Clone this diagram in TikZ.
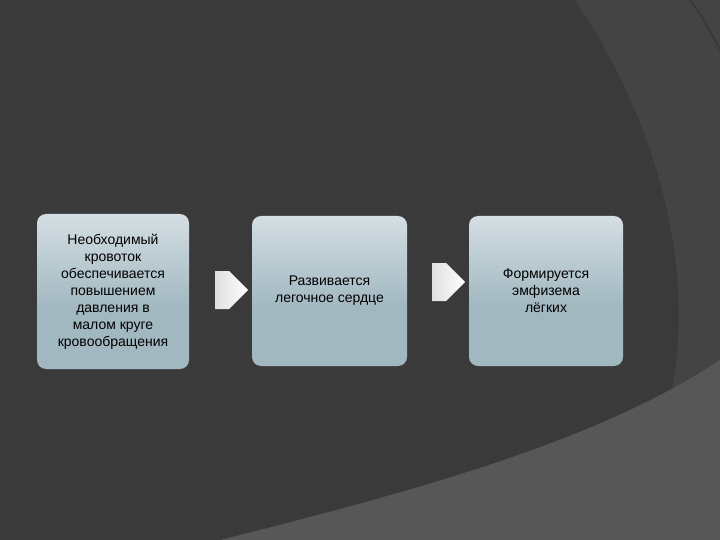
\documentclass[tikz,border=0pt]{standalone}
\usepackage{fontspec}
\setmainfont{Liberation Sans}
\usetikzlibrary{shapes.arrows}
\definecolor{boxb}{HTML}{D8E0E4}
\definecolor{boxm}{HTML}{A2B8C1}
\definecolor{boxl}{HTML}{D4DEE3}
\definecolor{bgdark}{HTML}{3A3A3A}
\definecolor{bgmid}{HTML}{444444}
\definecolor{bglight}{HTML}{575757}
\pgfdeclareverticalshading{boxshade}{100bp}{color(0bp)=(boxb); color(12bp)=(boxm); color(45bp)=(boxm); color(75bp)=(boxl); color(100bp)=(white)}
\tikzset{
  stepbox/.style={rounded corners=9pt, shading=boxshade, align=center, font=\fontsize{14}{17}\selectfont, text=black, inner sep=0pt},
  flowarrow/.style={single arrow, draw=none, minimum height=33pt, minimum width=38pt, single arrow head extend=0pt, inner sep=0pt, left color=gray!25!white, right color=white}
}
\begin{document}
\begin{tikzpicture}[x=1pt,y=-1pt]
\fill[bgdark] (0,0) rectangle (720,540);
\useasboundingbox (0,0) rectangle (720,540);
\fill[bgmid] (575,0) .. controls (650,110) and (700,260) .. (670,400) -- (720,400) -- (720,0) -- cycle;
\draw[bgdark, line width=2pt] (690,0) .. controls (705,20) and (715,40) .. (720,50);
\fill[bglight] (220,540) .. controls (420,490) and (600,440) .. (720,360) -- (720,540) -- cycle;
\node[stepbox, minimum width=152pt, minimum height=155pt] (a) at (113,291.5) {Необходимый\\кровоток\\обеспечивается\\повышением\\давления в\\малом круге\\кровообращения};
\node[stepbox, minimum width=155pt, minimum height=150pt] (b) at (329.5,291) {Развивается\\легочное сердце};
\node[stepbox, minimum width=154pt, minimum height=150pt] (c) at (546,291) {Формируется\\эмфизема\\лёгких};
\node[flowarrow] (ar1) at (222,290) {};
\node[flowarrow] (ar2) at (439,282) {};
\end{tikzpicture}
\end{document}
